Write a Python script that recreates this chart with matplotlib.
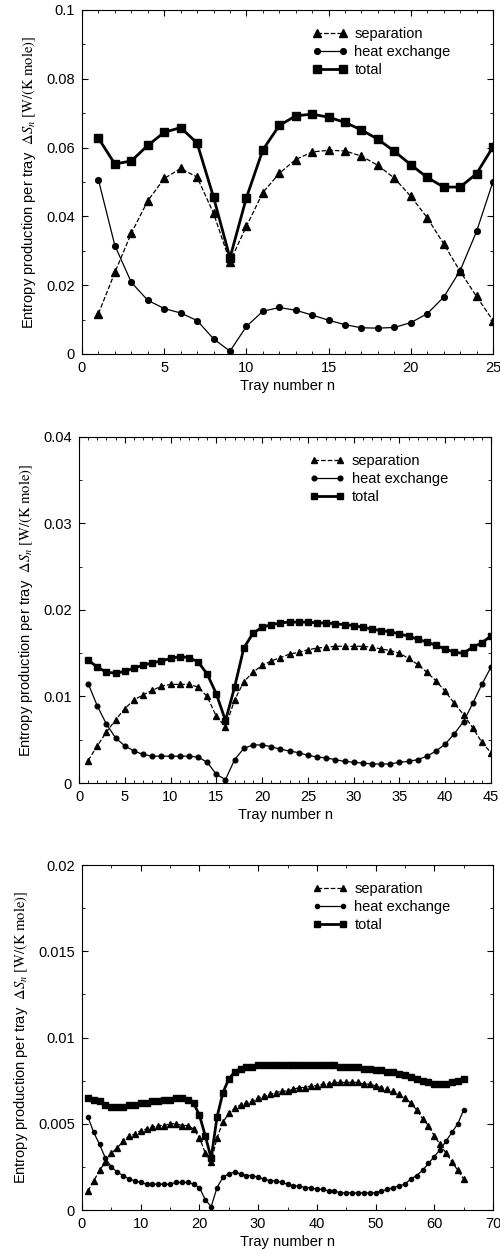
import matplotlib
matplotlib.use("Agg")
import matplotlib.pyplot as plt
from matplotlib.ticker import MultipleLocator, FuncFormatter

plt.rcParams['font.family'] = ['Liberation Sans', 'DejaVu Sans']
plt.rcParams['font.size'] = 10.5
plt.rcParams['mathtext.fontset'] = 'stix'

# Panel 1: 25 trays
sep1 = [0.0117, 0.0237, 0.0351, 0.0445, 0.0510, 0.0539, 0.0514, 0.0409, 0.0268, 0.0371,
        0.0469, 0.0525, 0.0565, 0.0587, 0.0592, 0.0590, 0.0575, 0.0548, 0.0511, 0.0458,
        0.0396, 0.0320, 0.0240, 0.0167, 0.0097]
heat1 = [0.0506, 0.0315, 0.0208, 0.0156, 0.0132, 0.0119, 0.0097, 0.0044, 0.0008, 0.0080,
         0.0124, 0.0135, 0.0127, 0.0113, 0.0098, 0.0085, 0.0076, 0.0075, 0.0077, 0.0091,
         0.0117, 0.0165, 0.0242, 0.0356, 0.0501]
total1 = [0.0627, 0.0552, 0.0561, 0.0606, 0.0644, 0.0658, 0.0613, 0.0456, 0.0279, 0.0454,
          0.0593, 0.0664, 0.0692, 0.0697, 0.0688, 0.0673, 0.0651, 0.0624, 0.0589, 0.0550,
          0.0513, 0.0485, 0.0485, 0.0524, 0.0602]

# Panel 2: 45 trays
sep2 = [0.0026, 0.0043, 0.0059, 0.0073, 0.0086, 0.0096, 0.0102, 0.0107, 0.0112, 0.0114,
        0.0114, 0.0114, 0.0111, 0.0100, 0.0077, 0.0065, 0.0096, 0.0117, 0.0128, 0.0136,
        0.0141, 0.0145, 0.0149, 0.0151, 0.0154, 0.0156, 0.0157, 0.0158, 0.0158, 0.0158,
        0.0158, 0.0157, 0.0155, 0.0153, 0.0150, 0.0144, 0.0137, 0.0128, 0.0118, 0.0106,
        0.0092, 0.0079, 0.0064, 0.0047, 0.0035]
heat2 = [0.0115, 0.0089, 0.0068, 0.0052, 0.0043, 0.0037, 0.0033, 0.0031, 0.0031, 0.0031,
         0.0031, 0.0031, 0.0030, 0.0024, 0.0010, 0.0004, 0.0027, 0.0040, 0.0044, 0.0044,
         0.0042, 0.0039, 0.0037, 0.0035, 0.0032, 0.0030, 0.0029, 0.0027, 0.0025, 0.0024,
         0.0023, 0.0022, 0.0022, 0.0022, 0.0024, 0.0025, 0.0027, 0.0031, 0.0037, 0.0045,
         0.0057, 0.0071, 0.0092, 0.0114, 0.0134]
total2 = [0.0142, 0.0134, 0.0128, 0.0127, 0.0129, 0.0133, 0.0136, 0.0139, 0.0141, 0.0144,
          0.0146, 0.0145, 0.0140, 0.0126, 0.0103, 0.0072, 0.0111, 0.0156, 0.0173, 0.0180,
          0.0183, 0.0185, 0.0186, 0.0186, 0.0186, 0.0185, 0.0185, 0.0184, 0.0183, 0.0182,
          0.0180, 0.0178, 0.0176, 0.0175, 0.0172, 0.0170, 0.0166, 0.0163, 0.0159, 0.0155,
          0.0151, 0.0150, 0.0157, 0.0162, 0.0170]

# Panel 3: 65 trays
sep3 = [0.0011, 0.0017, 0.0023, 0.0028, 0.0033, 0.0036, 0.0040, 0.0043, 0.0044, 0.0046,
        0.0047, 0.0048, 0.0049, 0.0049, 0.0050, 0.0050, 0.0049, 0.0049, 0.0047, 0.0042,
        0.0033, 0.0028, 0.0042, 0.0051, 0.0056, 0.0059, 0.0061, 0.0062, 0.0063, 0.0065,
        0.0066, 0.0067, 0.0068, 0.0069, 0.0069, 0.0070, 0.0071, 0.0071, 0.0072, 0.0072,
        0.0073, 0.0073, 0.0074, 0.0074, 0.0074, 0.0074, 0.0074, 0.0073, 0.0073, 0.0072,
        0.0071, 0.0070, 0.0069, 0.0067, 0.0065, 0.0062, 0.0058, 0.0053, 0.0049, 0.0043,
        0.0038, 0.0033, 0.0028, 0.0023, 0.0018]
heat3 = [0.0054, 0.0045, 0.0038, 0.0030, 0.0025, 0.0022, 0.0020, 0.0018, 0.0017, 0.0016,
         0.0015, 0.0015, 0.0015, 0.0015, 0.0015, 0.0016, 0.0016, 0.0016, 0.0015, 0.0013,
         0.0006, 0.0002, 0.0013, 0.0019, 0.0021, 0.0022, 0.0021, 0.0020, 0.0020, 0.0019,
         0.0018, 0.0017, 0.0017, 0.0016, 0.0015, 0.0014, 0.0014, 0.0013, 0.0013, 0.0012,
         0.0012, 0.0011, 0.0011, 0.0010, 0.0010, 0.0010, 0.0010, 0.0010, 0.0010, 0.0010,
         0.0011, 0.0012, 0.0013, 0.0014, 0.0015, 0.0018, 0.0020, 0.0023, 0.0027, 0.0031,
         0.0035, 0.0040, 0.0045, 0.0050, 0.0058]
total3 = [0.0065, 0.0064, 0.0063, 0.0061, 0.0060, 0.0060, 0.0060, 0.0061, 0.0061, 0.0062,
          0.0062, 0.0063, 0.0063, 0.0064, 0.0064, 0.0065, 0.0065, 0.0064, 0.0062, 0.0055,
          0.0043, 0.0030, 0.0054, 0.0068, 0.0076, 0.0080, 0.0082, 0.0083, 0.0083, 0.0084,
          0.0084, 0.0084, 0.0084, 0.0084, 0.0084, 0.0084, 0.0084, 0.0084, 0.0084, 0.0084,
          0.0084, 0.0084, 0.0084, 0.0083, 0.0083, 0.0083, 0.0083, 0.0082, 0.0082, 0.0081,
          0.0081, 0.0080, 0.0080, 0.0079, 0.0078, 0.0077, 0.0076, 0.0075, 0.0074, 0.0073,
          0.0073, 0.0073, 0.0074, 0.0075, 0.0076]

panels = [
    # data, axes rect, xlim, xmajor, xminor, ylim, ymajor, yminor, marker size
    ((sep1, heat1, total1), [0.164, 0.7173, 0.822, 0.2748], 25, 5, 1, 0.1, 0.02, 0.01, 5.5),
    ((sep2, heat2, total2), [0.158, 0.3746, 0.824, 0.2764], 45, 5, 1, 0.04, 0.01, 0.005, 4.5),
    ((sep3, heat3, total3), [0.164, 0.0335, 0.822, 0.2756], 70, 10, 5, 0.02, 0.005, 0.0025, 4),
]

fmt = FuncFormatter(lambda v, p: '%g' % round(v, 6))
ylab = 'Entropy production per tray  $\\Delta S_n\\ [\\mathrm{W/(K\\ mole)}]$'

fig = plt.figure(figsize=(5.0, 12.52), dpi=100)

for (sep, heat, total), rect, xmax, xmaj, xmin, ymax, ymaj, ymin, ms in panels:
    ax = fig.add_axes(rect)
    n = list(range(1, len(sep) + 1))
    ax.plot(n, sep, '--', color='black', lw=0.9, marker='^', ms=ms, label='separation')
    ax.plot(n, heat, '-', color='black', lw=0.9, marker='o', ms=ms * 0.75, label='heat exchange')
    ax.plot(n, total, '-', color='black', lw=2.0, marker='s', ms=ms, label='total')

    ax.set_xlim(0, xmax)
    ax.set_ylim(0, ymax)
    ax.xaxis.set_major_locator(MultipleLocator(xmaj))
    ax.xaxis.set_minor_locator(MultipleLocator(xmin))
    ax.yaxis.set_major_locator(MultipleLocator(ymaj))
    ax.yaxis.set_minor_locator(MultipleLocator(ymin))
    ax.xaxis.set_major_formatter(fmt)
    ax.yaxis.set_major_formatter(fmt)
    ax.tick_params(which='both', direction='in', top=True, right=True, labelsize=10.5)
    ax.tick_params(which='major', length=4, pad=5)
    ax.tick_params(which='minor', length=2)

    ax.set_xlabel('Tray number n', fontsize=10.5, labelpad=3)
    ax.set_ylabel(ylab, fontsize=10.5, labelpad=6)

    ax.legend(loc='upper left', bbox_to_anchor=(0.56, 0.95), borderaxespad=0, borderpad=0,
              frameon=False, numpoints=2, handlelength=2.4, handletextpad=0.5,
              labelspacing=0.27, fontsize=10.5)

fig.savefig('out.png', dpi=100)
